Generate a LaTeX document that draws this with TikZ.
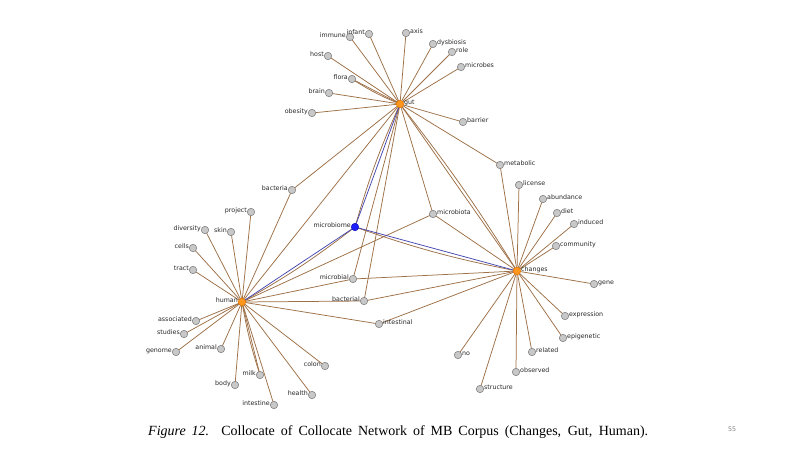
\documentclass[tikz,border=0pt]{standalone}
\usepackage{fontspec}
\setmainfont{Liberation Serif}
\newfontfamily\lblfont{DejaVu Sans}
\usetikzlibrary{backgrounds}
\definecolor{ebrown}{RGB}{158,112,70}
\definecolor{bedge}{RGB}{70,70,175}
\definecolor{vgray}{RGB}{200,200,200}
\definecolor{vborder}{RGB}{130,130,130}
\definecolor{horange}{RGB}{255,150,30}
\definecolor{hborder}{RGB}{235,125,0}
\definecolor{bnode}{RGB}{30,30,255}
\definecolor{bborder}{RGB}{20,20,190}
\definecolor{lblgray}{RGB}{40,40,40}
\newcommand\lv[4]{\node[vtx] (#1) at (#2,#3) {}; \node[lblL] (#1-l) at (#2-4,#3+0.5) {#4};}
\newcommand\rv[4]{\node[vtx] (#1) at (#2,#3) {}; \node[lblR] (#1-l) at (#2+4,#3+0.5) {#4};}
\begin{document}
\begin{tikzpicture}[x=1pt,y=-1pt,
  vtx/.style={circle,draw=vborder,fill=vgray,line width=0.6pt,inner sep=0pt,minimum size=7.4pt},
  hubnode/.style={vtx,fill=horange,draw=hborder},
  bluenode/.style={vtx,fill=bnode,draw=bborder},
  lbltext/.style={font=\lblfont\fontsize{6.3}{7}\selectfont,text=lblgray,inner sep=0pt},
  lblL/.style={lbltext,anchor=base east},
  lblR/.style={lbltext,anchor=base west},
  edge/.style={draw=ebrown,line width=0.75pt},
  bluedge/.style={draw=bedge,line width=0.75pt}]
\useasboundingbox (0,0) rectangle (800,450);
% hubs
\node[hubnode] (gut) at (400,104) {}; \node[lblR] (gut-l) at (404,104.5) {gut};
\node[hubnode] (human) at (242,302) {}; \node[lblL] (human-l) at (238,302.5) {human};
\node[hubnode] (changes) at (517,271) {}; \node[lblR] (changes-l) at (521,271.5) {changes};
\node[bluenode] (microbiome) at (355,227) {}; \node[lblL] (microbiome-l) at (351,227.5) {microbiome};
% left-labelled
\lv{immune}{350}{37}{immune}
\lv{infant}{369}{34}{infant}
\lv{host}{328}{56}{host}
\lv{flora}{352}{79}{flora}
\lv{brain}{329}{93}{brain}
\lv{obesity}{312}{113}{obesity}
\lv{bacteria}{292}{190}{bacteria}
\lv{project}{251}{212}{project}
\lv{diversity}{205}{230}{diversity}
\lv{skin}{231}{232}{skin}
\lv{cells}{193}{248}{cells}
\lv{tract}{193}{270}{tract}
\lv{microbial}{353}{279}{microbial}
\lv{bacterial}{364}{301}{bacterial}
\lv{associated}{196}{321}{associated}
\lv{studies}{184}{334}{studies}
\lv{genome}{176}{352}{genome}
\lv{animal}{221}{349}{animal}
\lv{milk}{260}{375}{milk}
\lv{body}{235}{385}{body}
\lv{intestine}{274}{405}{intestine}
\lv{health}{312}{395}{health}
\lv{colon}{325}{366}{colon}
% right-labelled
\rv{axis}{406}{33}{axis}
\rv{dysbiosis}{433}{44}{dysbiosis}
\rv{role}{452}{52}{role}
\rv{microbes}{461}{67}{microbes}
\rv{barrier}{463}{122}{barrier}
\rv{metabolic}{500}{165}{metabolic}
\rv{license}{519}{185}{license}
\rv{abundance}{543}{199}{abundance}
\rv{diet}{557}{213}{diet}
\rv{induced}{574}{224}{induced}
\rv{community}{556}{246}{community}
\rv{gene}{594}{284}{gene}
\rv{expression}{565}{316}{expression}
\rv{epigenetic}{563}{338}{epigenetic}
\rv{related}{532}{352}{related}
\rv{no}{458}{355}{no}
\rv{observed}{516}{372}{observed}
\rv{structure}{480}{389}{structure}
\rv{microbiota}{433}{214}{microbiota}
\rv{intestinal}{379}{324}{intestinal}
% edges
\begin{pgfonlayer}{background}
\fill[white] (0,0) rectangle (800,450);
\foreach \n in {immune,infant,axis,dysbiosis,role,microbes,host,flora,brain,obesity,barrier,bacteria,human,microbial,bacterial,microbiota,changes,metabolic}
  \draw[edge] (gut.center) -- (\n.center);
\draw[edge] (gut.center) to[bend left=5] (flora.center);
\draw[edge] (gut.center) to[bend left=3] (changes.center);
\foreach \n in {project,diversity,skin,cells,tract,associated,studies,genome,animal,milk,body,intestine,health,colon,intestinal,bacterial,microbial,microbiota,bacteria}
  \draw[edge] (human.center) -- (\n.center);
\draw[edge] (human.center) to[bend right=4] (milk.center);
\draw[edge] (microbiome.center) to[bend left=4] (gut.center);
\draw[edge] (microbiome.center) to[bend left=4] (human.center);
\draw[edge] (microbiome.center) to[bend right=4] (changes.center);
\foreach \n in {metabolic,license,abundance,diet,induced,community,gene,expression,epigenetic,related,no,observed,structure,microbiota,microbial,bacterial,intestinal}
  \draw[edge] (changes.center) -- (\n.center);
\draw[bluedge] (microbiome.center) -- (gut.center);
\draw[bluedge] (microbiome.center) -- (human.center);
\draw[bluedge] (microbiome.center) -- (changes.center);
\end{pgfonlayer}
% caption
\node[anchor=base west,inner sep=0pt] (caption) at (148,435)
  {\fontsize{14}{16}\selectfont\makebox[500pt][s]{\textit{Figure 12.} Collocate of Collocate Network of MB Corpus (Changes, Gut, Human).}};
\node[lbltext,anchor=base west,text=gray] (pagenum) at (728,431) {55};
\end{tikzpicture}
\end{document}
